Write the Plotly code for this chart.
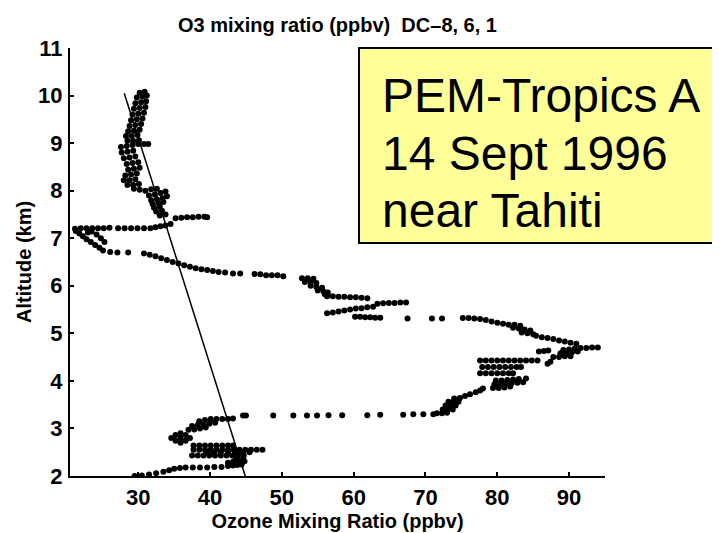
import plotly.graph_objects as go

# Ozone profile (ppbv) vs altitude (km), bottom to top
ozone_ppbv = [
    # tail near 2 km
    29.5, 30.5, 31.5, 32.5, 33.5, 34.3, 35.0, 35.8, 36.6, 37.6, 38.6, 39.6, 40.6, 41.6, 42.5, 43.2, 43.8, 44.4,
    42.5, 43.2, 44.0, 44.8, 43.6, 44.6,
    37.5, 38.3, 39.1, 39.9, 40.7, 41.5, 42.3, 43.1, 43.9, 44.7,
    39.5, 40.5, 41.5, 42.5, 43.5, 44.5, 45.5,
    37.7, 38.5, 39.3, 40.1, 40.9, 41.7, 42.5, 43.3, 44.1, 44.9, 45.7, 46.5, 47.3,
    37.7, 38.5, 39.3, 40.1, 40.9, 41.7, 42.5, 43.2,
    34.6, 35.2, 35.2, 35.9, 35.9, 35.9, 36.6, 36.6, 37.2,
    37.0, 37.8, 38.6, 39.4, 37.5, 38.3, 39.1, 39.9, 40.7, 38.5, 39.3, 40.1, 40.9, 41.7, 42.5, 43.2,
    # sparse row near 3.3 km
    44.6, 45.0, 48.8, 51.6, 53.5, 54.9, 56.5, 58.4, 61.9, 63.7, 66.9, 68.3, 69.7, 71.1,
    71.6, 72.3, 73.0, 72.4, 73.1, 73.8, 72.8, 73.5, 74.2, 73.2, 73.9, 74.6, 74.0, 74.8, 75.5, 76.2, 77.0, 77.6,
    78.0,
    79.4, 80.2, 81.0, 81.8, 79.6, 80.4, 81.2, 82.0, 82.8, 83.6, 79.8, 80.6, 81.4, 82.2, 83.0, 84.0,
    77.6, 78.4, 79.2, 80.0, 80.8, 81.6, 82.2,
    77.9, 78.7, 79.5, 80.3, 81.1, 81.9, 82.7, 83.3,
    77.6, 78.4, 79.2, 80.0, 80.8, 81.6, 82.4, 83.2, 84.0, 84.8, 85.6, 87.0, 87.4,
    85.8, 86.5, 87.1,
    87.8, 88.6, 89.4, 90.2, 88.8, 89.6, 90.4, 91.2, 89.2, 90.0, 90.8, 91.6, 92.4, 93.2, 94.0,
    91.0, 90.2, 89.4, 88.6, 87.8, 87.0, 86.2, 85.4,
    85.0, 84.2, 83.4, 84.6, 83.8, 83.0, 82.2, 83.2, 82.4, 81.6, 80.8, 80.0, 79.2, 78.4, 77.6, 76.8, 76.0, 75.2,
    72.3, 70.9, 67.5,
    63.7, 63.0, 62.3, 61.6, 60.9, 60.2,
    56.3, 57.1, 57.9, 58.7, 59.5, 60.3, 61.1, 61.9, 62.7,
    63.3, 64.1, 64.9, 65.7, 66.5, 67.3,
    56.3, 57.1, 57.9, 58.7, 59.5, 60.3, 61.1, 61.9,
    52.8, 53.6, 54.4, 53.2, 54.0, 54.8, 54.0, 54.8, 55.6, 55.0, 55.8, 56.4, 56.0,
    50.2, 49.4, 48.6, 47.8, 47.0, 46.2, 44.2, 43.2, 42.1, 41.2, 40.4, 39.6, 38.8, 38.0, 37.2, 36.4,
    35.6, 34.8, 34.0, 33.2, 32.4, 31.6, 30.8,
    28.6, 27.1, 26.1,
    25.1, 24.6, 24.0, 23.4, 22.8, 22.3, 21.8, 21.3, 21.2, 22.0, 22.8, 23.6, 24.4, 25.2, 26.0,
    23.5, 24.2, 24.8, 25.3, 23.0,
    27.2, 28.1, 29.0, 29.9, 30.8, 31.7,
    32.4, 33.1, 33.8, 34.5,
    35.2, 36.0, 36.8, 37.6, 38.4, 39.2, 39.6,
    33.0, 33.8, 32.5, 33.3, 32.2, 33.0, 32.0, 32.8, 33.5, 31.8, 32.6, 33.4, 34.0, 31.5, 32.3, 33.1,
    33.8, 31.0, 30.2, 29.4, 31.8, 32.6,
    28.5, 29.3, 30.1, 28.0, 28.8, 29.6, 28.2, 29.0, 29.8, 28.6, 29.4, 30.2, 28.4, 29.2, 30.0,
    28.0, 28.8, 29.6, 27.7, 28.5, 29.3, 27.6, 28.4, 29.2, 30.0, 30.8, 31.4,
    28.5, 29.3, 30.1, 28.3, 29.1, 29.9, 28.6, 29.4, 30.2, 28.8, 29.6, 30.4, 29.0, 29.8, 30.6,
    29.2, 30.0, 30.8, 29.4, 30.2, 31.0, 29.6, 30.4, 31.1, 29.8, 30.6, 31.2, 30.2, 30.9,
]

altitude_km = [
    2.00, 2.01, 2.03, 2.06, 2.09, 2.12, 2.15, 2.17, 2.18, 2.18, 2.18, 2.18, 2.19, 2.19, 2.21, 2.22, 2.23, 2.24,
    2.28, 2.30, 2.30, 2.31, 2.35, 2.36,
    2.43, 2.43, 2.43, 2.43, 2.43, 2.43, 2.43, 2.43, 2.43, 2.43,
    2.50, 2.50, 2.50, 2.50, 2.50, 2.50, 2.50,
    2.55, 2.55, 2.55, 2.55, 2.55, 2.55, 2.55, 2.55, 2.55, 2.55, 2.55, 2.55, 2.55,
    2.64, 2.64, 2.64, 2.64, 2.64, 2.64, 2.64, 2.64,
    2.80, 2.74, 2.86, 2.70, 2.80, 2.90, 2.74, 2.86, 2.80,
    2.97, 2.98, 3.00, 3.02, 3.05, 3.07, 3.08, 3.10, 3.12, 3.15, 3.18, 3.20, 3.20, 3.20, 3.20, 3.21,
    3.27, 3.27, 3.27, 3.27, 3.27, 3.27, 3.28, 3.28, 3.28, 3.29, 3.29, 3.30, 3.30, 3.30,
    3.32, 3.32, 3.33, 3.40, 3.40, 3.40, 3.48, 3.48, 3.48, 3.56, 3.56, 3.56, 3.63, 3.64, 3.68, 3.72, 3.76, 3.80,
    3.84,
    3.85, 3.85, 3.86, 3.88, 3.93, 3.93, 3.94, 3.95, 3.96, 3.97, 4.01, 4.01, 4.02, 4.03, 4.04, 4.05,
    4.16, 4.16, 4.16, 4.16, 4.16, 4.16, 4.16,
    4.29, 4.29, 4.29, 4.29, 4.29, 4.29, 4.29, 4.29,
    4.43, 4.43, 4.43, 4.43, 4.43, 4.43, 4.43, 4.43, 4.43, 4.43, 4.43, 4.36, 4.40,
    4.62, 4.63, 4.64,
    4.50, 4.50, 4.52, 4.52, 4.58, 4.58, 4.60, 4.62, 4.65, 4.66, 4.68, 4.69, 4.69, 4.70, 4.70,
    4.78, 4.80, 4.83, 4.85, 4.88, 4.90, 4.92, 4.95,
    4.98, 5.00, 5.02, 5.06, 5.08, 5.10, 5.12, 5.16, 5.18, 5.18, 5.20, 5.22, 5.25, 5.28, 5.30, 5.31, 5.32, 5.32,
    5.31, 5.31, 5.31,
    5.33, 5.33, 5.34, 5.34, 5.35, 5.35,
    5.42, 5.44, 5.46, 5.48, 5.50, 5.52, 5.53, 5.55, 5.56,
    5.62, 5.63, 5.64, 5.64, 5.65, 5.65,
    5.78, 5.78, 5.77, 5.77, 5.76, 5.76, 5.75, 5.74,
    6.16, 6.16, 6.15, 6.08, 6.08, 6.06, 6.00, 5.98, 5.96, 5.90, 5.88, 5.86, 5.82,
    6.20, 6.22, 6.22, 6.22, 6.24, 6.25, 6.26, 6.26, 6.28, 6.29, 6.31, 6.33, 6.35, 6.37, 6.40, 6.43,
    6.47, 6.50, 6.54, 6.58, 6.62, 6.65, 6.68,
    6.70, 6.70, 6.71,
    6.74, 6.80, 6.86, 6.92, 6.98, 7.04, 7.10, 7.15, 7.20, 7.21, 7.21, 7.21, 7.21, 7.21, 7.22,
    7.14, 7.08, 7.00, 6.92, 7.12,
    7.21, 7.21, 7.21, 7.21, 7.21, 7.21,
    7.23, 7.25, 7.27, 7.30,
    7.42, 7.43, 7.44, 7.44, 7.45, 7.45, 7.44,
    7.48, 7.50, 7.56, 7.58, 7.64, 7.66, 7.72, 7.74, 7.76, 7.80, 7.82, 7.84, 7.88, 7.90, 7.92, 7.95,
    7.98, 8.00, 8.02, 8.04, 8.03, 8.04,
    8.12, 8.12, 8.14, 8.22, 8.22, 8.24, 8.32, 8.34, 8.36, 8.44, 8.46, 8.48, 8.56, 8.58, 8.60,
    8.68, 8.70, 8.72, 8.80, 8.82, 8.84, 8.92, 8.94, 8.96, 8.98, 8.98, 8.98,
    9.05, 9.05, 9.06, 9.15, 9.15, 9.17, 9.25, 9.26, 9.28, 9.36, 9.38, 9.40, 9.48, 9.50, 9.52,
    9.60, 9.62, 9.64, 9.72, 9.74, 9.76, 9.84, 9.86, 9.88, 9.96, 9.98, 10.00, 10.06, 10.08,
]

# straight reference line
fit_ozone = [28.05, 44.9]
fit_altitude = [10.05, 2.0]

x_ticks = [30, 40, 50, 60, 70, 80, 90]
y_ticks = [2, 3, 4, 5, 6, 7, 8, 9, 10, 11]

title_text = "O3 mixing ratio (ppbv)  DC\u20138, 6, 1"
box_lines = ["PEM-Tropics A", "14 Sept 1996", "near Tahiti"]

# the page body adds an 8 px offset; work in screen pixels and subtract it
OFF = 8
W, H = 720 - OFF, 533 - OFF
L, R, T, B = 70 - OFF, 605 - OFF, 48 - OFF, 476 - OFF


def px_x(p):
    return (p - OFF - L) / (R - L)


def px_y(p):
    return (B - (p - OFF)) / (B - T)


FONT = "Liberation Sans, Arial, sans-serif"

fig = go.Figure()
fig.add_trace(go.Scatter(
    x=ozone_ppbv, y=altitude_km, mode="markers",
    marker=dict(color="black", size=6, line=dict(width=0)),
    showlegend=False, hoverinfo="x+y",
))
fig.add_trace(go.Scatter(
    x=fit_ozone, y=fit_altitude, mode="lines",
    line=dict(color="black", width=1.5), showlegend=False,
))

tick_font = dict(family=FONT, size=22, color="black", weight="bold")

fig.update_layout(
    width=W, height=H,
    margin=dict(l=L, r=W - R, t=T, b=H - B, pad=0, autoexpand=False),
    paper_bgcolor="white", plot_bgcolor="white",
    title=dict(
        text=title_text, x=0.5, xref="paper", xanchor="center",
        y=1 - (25 - OFF) / H, yref="container", yanchor="middle",
        font=dict(family=FONT, size=20, color="black", weight="bold"),
    ),
    xaxis=dict(
        range=[20.5, 95], tickvals=x_ticks, ticks="inside", ticklen=4, tickwidth=1.5,
        tickcolor="black", showline=True, linecolor="black", linewidth=2, mirror=False,
        showgrid=False, zeroline=False, tickfont=tick_font, ticklabelstandoff=1,
        automargin=False,
        title=dict(text="Ozone Mixing Ratio (ppbv)", standoff=3,
                   font=dict(family=FONT, size=20, color="black", weight="bold")),
    ),
    yaxis=dict(
        range=[2, 11], tickvals=y_ticks, ticks="inside", ticklen=4, tickwidth=1.5,
        tickcolor="black", showline=True, linecolor="black", linewidth=2, mirror=False,
        showgrid=False, zeroline=False, tickfont=tick_font, ticklabelstandoff=1,
        automargin=False,
        title=dict(text="Altitude (km)", standoff=1,
                   font=dict(family=FONT, size=20, color="black", weight="bold")),
    ),
    shapes=[dict(
        type="rect", xref="paper", yref="paper",
        x0=px_x(359), x1=px_x(719), y0=px_y(243), y1=px_y(48),
        fillcolor="#FFFF99", line=dict(color="black", width=2), layer="above",
    )],
)

for txt, yc in zip(box_lines, [95, 153, 210]):
    fig.add_annotation(
        text=txt, xref="paper", yref="paper", x=px_x(380), y=px_y(yc),
        xanchor="left", yanchor="middle", showarrow=False,
        font=dict(family=FONT, size=48, color="black"),
    )

fig.write_html("out.html")
